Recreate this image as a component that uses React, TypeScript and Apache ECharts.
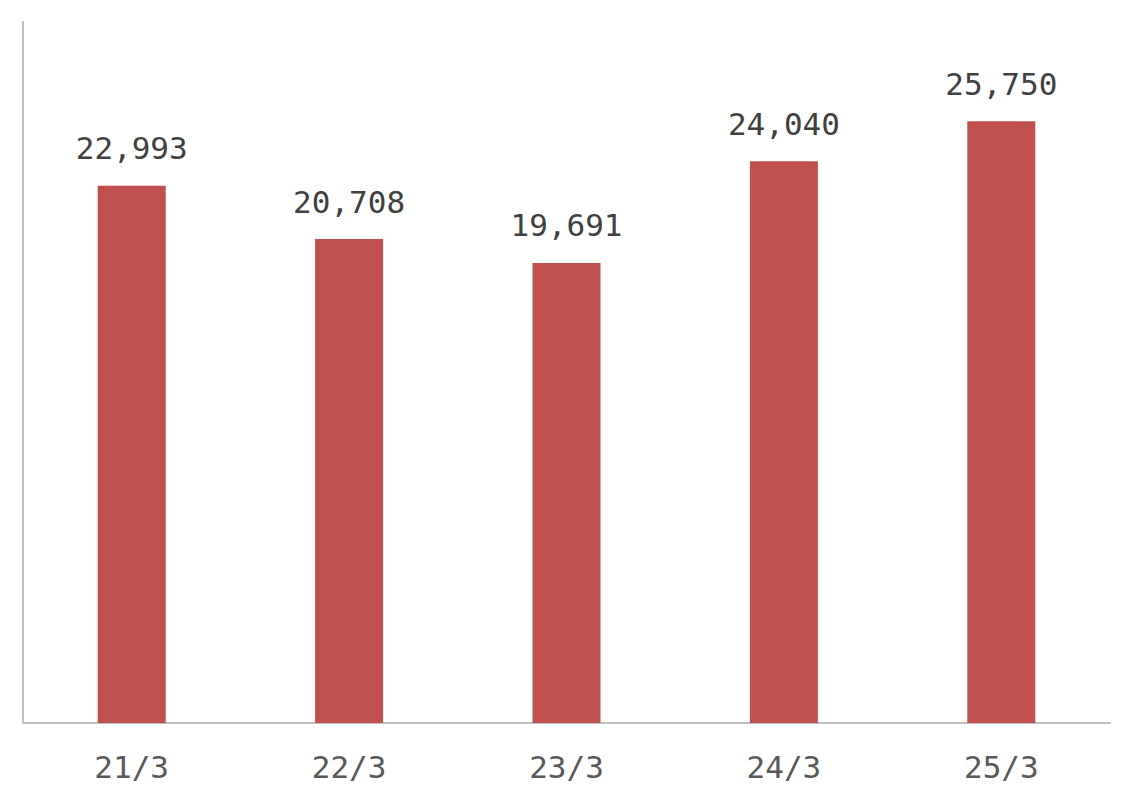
import React, { useEffect, useRef } from "react";
import * as echarts from "echarts";

const categories = ["21/3", "22/3", "23/3", "24/3", "25/3"];
const values = [22993, 20708, 19691, 24040, 25750];

export default function App() {
  const ref = useRef<HTMLDivElement>(null);
  useEffect(() => {
    const chart = echarts.init(ref.current!, null, { renderer: "svg" });
    chart.setOption({
      animation: false,
      grid: { left: 23, right: 23, top: 22, bottom: 80 },
      xAxis: {
        type: "category",
        data: categories,
        axisLine: { lineStyle: { color: "#BFBFBF", width: 2 } },
        axisTick: { show: false },
        axisLabel: {
          color: "#595959",
          fontSize: 31,
          fontFamily: "DejaVu Sans Mono",
          margin: 28,
        },
      },
      yAxis: {
        type: "value",
        min: 0,
        max: 30000,
        axisLine: { show: true, lineStyle: { color: "#BFBFBF", width: 2 } },
        axisTick: { show: false },
        axisLabel: { show: false },
        splitLine: { show: false },
      },
      series: [
        {
          type: "bar",
          data: values,
          barWidth: 68,
          itemStyle: { color: "#C0504D" },
          label: {
            show: true,
            position: "top",
            distance: 22,
            color: "#404040",
            fontSize: 31,
            fontFamily: "DejaVu Sans Mono",
            formatter: (p: any) => p.value.toLocaleString("en-US"),
          },
        },
      ],
    });
    return () => chart.dispose();
  }, []);
  return <div ref={ref} style={{ width: 1133, height: 803, margin: -8 }} />;
}
